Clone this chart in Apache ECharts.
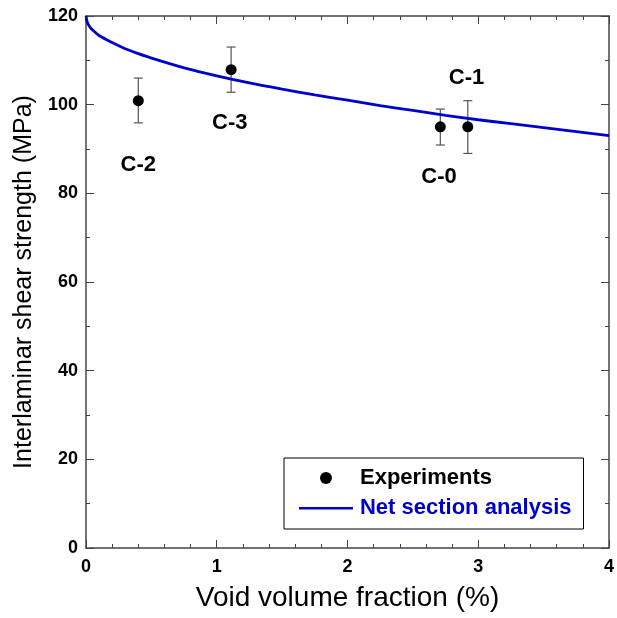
<!DOCTYPE html>
<html><head><meta charset="utf-8">
<script src="https://cdn.jsdelivr.net/npm/echarts@6/dist/echarts.min.js"></script>
<style>html,body{margin:0;padding:0;background:#fff;overflow:hidden}#c{width:617px;height:618px}</style>
</head><body><div id="c"></div>
<script>
const FONT = '"Liberation Sans", Arial, Helvetica, sans-serif';
const sampleNames = ['C-0', 'C-1', 'C-2', 'C-3'];
const expX = [2.71, 2.92, 0.4, 1.11];
const expY = [95, 95, 100.9, 107.9];
const errLow = [90.9, 89, 95.9, 102.8];
const errHigh = [99, 100.9, 106, 113];
const labelX = [2.70, 2.91, 0.40, 1.10];
const labelY = [83.8, 106.1, 86.4, 95.9];
const curveX = [0, 0.01, 0.03, 0.06, 0.1, 0.2, 0.3, 0.4, 0.5, 0.75, 1.0, 1.25, 1.5, 1.75, 2.0, 2.25, 2.5, 2.75, 3.0, 3.25, 3.5, 3.75, 4.0];
const curveY = [120, 118.6, 117.5, 116.6, 115.6, 114.0, 112.6, 111.5, 110.5, 108.3, 106.5, 104.9, 103.5, 102.2, 101.0, 99.8, 98.7, 97.6, 96.6, 95.7, 94.8, 93.9, 93.0];

const chart = echarts.init(document.getElementById('c'), null, {renderer: 'canvas', width: 617, height: 618});
const axisLineStyle = {color: '#444', width: 1.5};
const tickStyle = {color: '#444', width: 1};
function axisCommon(extra) {
  return Object.assign({
    type: 'value',
    splitLine: {show: false},
    axisLine: {show: true, onZero: false, lineStyle: axisLineStyle},
    axisTick: {show: true, inside: true, length: 8, lineStyle: tickStyle},
    minorTick: {show: true, length: 4, lineStyle: tickStyle},
  }, extra);
}
const lineIcon = 'path://M0,0L0.01,0L0.01,0.01Z M0,5L54,5L54,7.6L0,7.6Z M0,12L0.01,12L0.01,12.01Z';
const option = {
  backgroundColor: '#fff',
  animation: false,
  textStyle: {fontFamily: FONT},
  grid: {left: 86, width: 528, top: 16, height: 532, containLabel: false},
  legend: {
    orient: 'vertical', left: 284, top: 458,
    backgroundColor: '#fff', borderColor: '#000', borderWidth: 1, borderRadius: 0,
    padding: [8, 12, 9, 15],
    itemWidth: 54, itemHeight: 12, itemGap: 6,
    symbolKeepAspect: true,
    textStyle: {fontFamily: FONT, fontWeight: 'bold', fontSize: 22, lineHeight: 24, padding: [0, 0, 0, 2]},
    data: [
      {name: 'Experiments', icon: 'circle', itemStyle: {color: '#000'}, textStyle: {color: '#000'}},
      {name: 'Net section analysis', icon: lineIcon, itemStyle: {color: '#0000cc'}, textStyle: {color: '#0000cc'}}
    ]
  },
  xAxis: [
    axisCommon({
      min: 0, max: 4, interval: 1, position: 'bottom',
      minorTick: {show: true, splitNumber: 5, length: 4, lineStyle: tickStyle},
      axisLabel: {color: '#000', fontWeight: 'bold', fontSize: 18, fontFamily: FONT, margin: 10},
      name: 'Void volume fraction (%)', nameLocation: 'middle', nameGap: 36,
      nameTextStyle: {color: '#000', fontSize: 28, fontFamily: FONT}
    }),
    axisCommon({
      min: 0, max: 4, interval: 1, position: 'top',
      minorTick: {show: true, splitNumber: 5, length: 4, lineStyle: tickStyle},
      axisLabel: {show: false}
    })
  ],
  yAxis: [
    axisCommon({
      min: 0, max: 120, interval: 20, position: 'left',
      minorTick: {show: true, splitNumber: 2, length: 4, lineStyle: tickStyle},
      axisLabel: {color: '#000', fontWeight: 'bold', fontSize: 18, fontFamily: FONT, margin: 8},
      name: 'Interlaminar shear strength (MPa)', nameLocation: 'middle', nameGap: 37,
      nameTextStyle: {color: '#000', fontSize: 25, fontFamily: FONT}
    }),
    axisCommon({
      min: 0, max: 120, interval: 20, position: 'right',
      minorTick: {show: true, splitNumber: 2, length: 4, lineStyle: tickStyle},
      axisLabel: {show: false}
    })
  ],
  series: [
    {
      name: 'errorbars', type: 'custom', xAxisIndex: 0, yAxisIndex: 0, z: 2,
      data: expX.map((x, i) => [x, errLow[i], errHigh[i]]),
      renderItem: function (params, api) {
        const x = api.value(0);
        const lo = api.coord([x, api.value(1)]);
        const hi = api.coord([x, api.value(2)]);
        const hw = 4.5;
        const st = {stroke: '#555', lineWidth: 1.2};
        return {type: 'group', children: [
          {type: 'line', shape: {x1: lo[0], y1: lo[1], x2: hi[0], y2: hi[1]}, style: st},
          {type: 'line', shape: {x1: lo[0] - hw, y1: lo[1], x2: lo[0] + hw, y2: lo[1]}, style: st},
          {type: 'line', shape: {x1: hi[0] - hw, y1: hi[1], x2: hi[0] + hw, y2: hi[1]}, style: st}
        ]};
      }
    },
    {
      name: 'Net section analysis', type: 'line', z: 3,
      data: curveX.map((x, i) => [x, curveY[i]]),
      smooth: 0.3, showSymbol: false, symbol: 'none',
      lineStyle: {color: '#0000cc', width: 2.8},
      itemStyle: {color: '#0000cc'}
    },
    {
      name: 'Experiments', type: 'scatter', z: 4,
      data: expX.map((x, i) => [x, expY[i]]),
      symbol: 'circle', symbolSize: 11,
      itemStyle: {color: '#000', opacity: 1}
    },
    {
      name: 'labels', type: 'scatter', z: 5, silent: true,
      data: labelX.map((x, i) => ({value: [x, labelY[i]], name: sampleNames[i]})),
      symbolSize: 0,
      itemStyle: {opacity: 1},
      label: {show: true, position: 'inside', formatter: '{b}', color: '#000', opacity: 1,
        fontWeight: 'bold', fontSize: 22, fontFamily: FONT}
    }
  ]
};
chart.setOption(option);
</script>
</body></html>
